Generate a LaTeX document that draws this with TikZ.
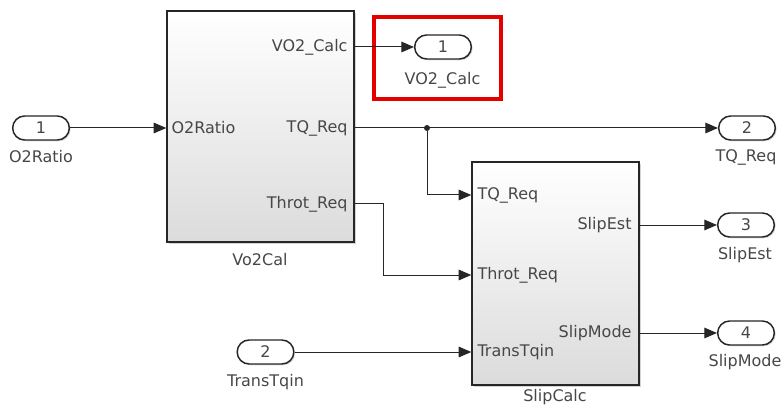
\documentclass[tikz,border=0pt]{standalone}
\usepackage{fontspec}
\setmainfont{DejaVu Sans}
\usetikzlibrary{shapes.misc,shadows,arrows.meta}

\tikzset{every picture/.style={line width=0.75pt}}
\tikzset{
  txt/.style={inner sep=0.75pt, text=black!72, font=\fontsize{12}{14}\selectfont},
  blk/.style={draw=black!85, line width=1.1pt, top color=white, bottom color=black!14,
    drop shadow={shadow xshift=1.3pt, shadow yshift=-1.3pt, opacity=0.35}},
  port/.style={rounded rectangle, draw=black!85, line width=1.1pt, fill=white,
    minimum width=44pt, minimum height=18pt, inner sep=0pt, txt,
    drop shadow={shadow xshift=1pt, shadow yshift=-1pt, opacity=0.3}},
  sig/.style={draw=black!85, line width=0.75pt, -{Triangle[length=9.5pt,width=8pt]}}
}

\begin{document}
\begin{tikzpicture}[x=0.75pt,y=0.75pt,yscale=-1,xscale=1]
\useasboundingbox (0,0) rectangle (784,413);

%Subsystem Vo2Cal
\node[blk, minimum width=140.25pt, minimum height=173.25pt] (vo2) at (260.5,126.5) {};
\node[txt] (vo2name) at (260,260) {Vo2Cal};
\node[txt, anchor=west] (vo2i1) at (170,128) {O2Ratio};
\node[txt, anchor=east] (vo2o1) at (349,47) {VO2\_Calc};
\node[txt, anchor=east] (vo2o2) at (349,128) {TQ\_Req};
\node[txt, anchor=east] (vo2o3) at (349,204) {Throt\_Req};

%Subsystem SlipCalc
\node[blk, minimum width=125.25pt, minimum height=167.25pt] (slip) at (555.5,273.5) {};
\node[txt] (slipname) at (555,397) {SlipCalc};
\node[txt, anchor=west] (slipi1) at (476,195) {TQ\_Req};
\node[txt, anchor=west] (slipi2) at (476,275) {Throt\_Req};
\node[txt, anchor=west] (slipi3) at (476,352) {TransTqin};
\node[txt, anchor=east] (slipo1) at (633,225) {SlipEst};
\node[txt, anchor=east] (slipo2) at (633,333) {SlipMode};

%Inports
\node[port] (in1) at (41,128) {1};
\node[txt] (in1name) at (41,157) {O2Ratio};
\node[port] (in2) at (265.5,352) {2};
\node[txt] (in2name) at (265.5,382) {TransTqin};

%Outports
\node[port] (out1) at (443,47) {1};
\node[txt] (out1name) at (442.5,80) {VO2\_Calc};
\node[port] (out2) at (747,128) {2};
\node[txt] (out2name) at (746,157) {TQ\_Req};
\node[port] (out3) at (746,225) {3};
\node[txt] (out3name) at (745,255) {SlipEst};
\node[port] (out4) at (746,333) {4};
\node[txt] (out4name) at (745,362) {SlipMode};

%Highlight round outport 1
\node[draw=red!90!black, line width=2.6pt, minimum width=95.25pt, minimum height=61.5pt] (hilite) at (437.5,58) {};

%Signal lines
\node[circle, fill=black!85, inner sep=0pt, minimum size=4.5pt] (jn) at (427,128) {};
\coordinate (bend) at (383,204);
\draw[sig] (in1.east) -- (vo2.west |- in1);
\draw[sig] (vo2.east |- out1) -- (out1.west);
\draw[sig] (vo2.east |- out2) -- (out2.west);
\draw[sig] (jn) |- (slip.west |- slipi1);
\draw[sig] (vo2.east |- vo2o3) -- (bend) |- (slip.west |- slipi2);
\draw[sig] (in2.east) -- (slip.west |- in2);
\draw[sig] (slip.east |- out3) -- (out3.west);
\draw[sig] (slip.east |- out4) -- (out4.west);

\end{tikzpicture}
\end{document}
